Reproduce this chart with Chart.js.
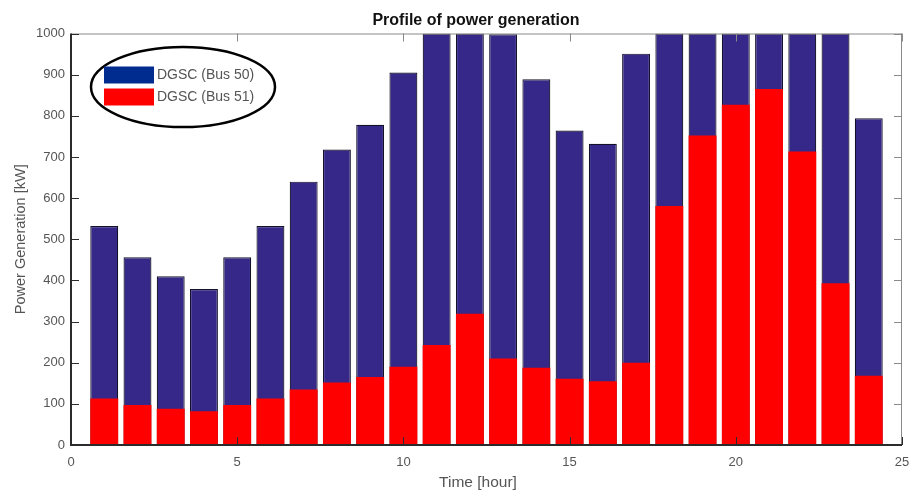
<!DOCTYPE html>
<html>
<head>
<meta charset="utf-8">
<script src="https://cdn.jsdelivr.net/npm/chart.js@4/dist/chart.umd.min.js"></script>
<style>
  html, body { margin: 0; padding: 0; background: #fff; }
  #wrap { width: 913px; height: 491px; }
</style>
</head>
<body>
<div id="wrap"><canvas id="c" width="913" height="491"></canvas></div>
<script>
// Hourly generation profile (kW)
const hours = [1,2,3,4,5,6,7,8,9,10,11,12,13,14,15,16,17,18,19,20,21,22,23,24];
// Bus 50 bar height (full bar)
const bus50 = [532,456,410,379,456,532,640,718,778,905,1000,1000,998,889,764,732,951,1000,1000,1000,1000,1000,1000,794];
// Bus 51 bar height (drawn over the lower part)
const bus51 = [113,97,88,82,97,113,135,152,165,190,243,319,210,188,161,155,200,581,752,827,865,713,393,168];
const yTicks = [0,100,200,300,400,500,600,700,800,900,1000];
const xTicks = [0,5,10,15,20,25];
const seriesLabels = ['DGSC (Bus 50)', 'DGSC (Bus 51)'];
const chartTitle = 'Profile of power generation';
const xTitle = 'Time [hour]';
const yTitle = 'Power Generation [kW]';

const FONT = 'Arial, "Liberation Sans", sans-serif';
const toPoints = (vals) => hours.map((h, i) => ({ x: h, y: vals[i] }));

// Box frame with inward tick marks on all four sides
const framePlugin = {
  id: 'frame',
  afterDatasetsDraw(chart) {
    const { ctx, chartArea: a, scales } = chart;
    const len = 8;
    ctx.save();
    ctx.lineWidth = 1;
    ctx.strokeStyle = '#8a8a8a';
    ctx.beginPath();
    ctx.moveTo(a.left, a.top + 0.5); ctx.lineTo(a.right, a.top + 0.5);
    ctx.moveTo(a.right - 0.5, a.top); ctx.lineTo(a.right - 0.5, a.bottom);
    xTicks.forEach(v => {
      const px = Math.round(scales.x.getPixelForValue(v)) + 0.5;
      ctx.moveTo(px, a.top); ctx.lineTo(px, a.top + len);
    });
    yTicks.forEach(v => {
      const py = Math.round(scales.y.getPixelForValue(v)) + 0.5;
      ctx.moveTo(a.right, py); ctx.lineTo(a.right - len, py);
    });
    ctx.stroke();
    ctx.strokeStyle = '#2b2b2b';
    ctx.beginPath();
    xTicks.forEach(v => {
      const px = Math.round(scales.x.getPixelForValue(v)) + 0.5;
      ctx.moveTo(px, a.bottom); ctx.lineTo(px, a.bottom - len);
    });
    yTicks.forEach(v => {
      const py = Math.round(scales.y.getPixelForValue(v)) + 0.5;
      ctx.moveTo(a.left, py); ctx.lineTo(a.left + len, py);
    });
    ctx.stroke();
    ctx.lineWidth = 2;
    ctx.beginPath();
    ctx.moveTo(a.left, a.top); ctx.lineTo(a.left, a.bottom);
    ctx.lineTo(a.right, a.bottom);
    ctx.stroke();
    ctx.restore();
  }
};

// Chart title and horizontal axis title
const titles = {
  id: 'titles',
  afterDraw(chart, args, opts) {
    const { ctx } = chart;
    ctx.save();
    ctx.textAlign = 'center';
    ctx.textBaseline = 'alphabetic';
    ctx.fillStyle = '#111';
    ctx.font = 'bold 16px ' + FONT;
    ctx.fillText(chartTitle, opts.titleX, opts.titleY);
    ctx.fillStyle = '#555';
    ctx.font = '15.5px ' + FONT;
    ctx.textBaseline = 'middle';
    ctx.fillText(xTitle, opts.xTitleX, opts.xTitleY);
    ctx.restore();
  }
};

// Legend inside an elliptical outline
const ovalLegend = {
  id: 'ovalLegend',
  afterDraw(chart, args, opts) {
    const { ctx } = chart;
    ctx.save();
    ctx.lineWidth = 2.5;
    ctx.strokeStyle = '#000';
    ctx.beginPath();
    ctx.ellipse(opts.cx, opts.cy, opts.rx, opts.ry, 0, 0, Math.PI * 2);
    ctx.stroke();
    ctx.font = '14px ' + FONT;
    ctx.textBaseline = 'middle';
    seriesLabels.forEach((lab, i) => {
      const y = opts.y0 + i * opts.step;
      ctx.fillStyle = opts.swatches[i];
      ctx.fillRect(opts.bx, y - 8.5, 50, 17);
      ctx.fillStyle = '#555';
      ctx.fillText(lab, opts.bx + 53, y + 0.5);
    });
    ctx.restore();
  }
};

new Chart(document.getElementById('c'), {
  type: 'bar',
  data: {
    datasets: [
      {
        label: seriesLabels[0],
        data: toPoints(bus50),
        backgroundColor: '#352888',
        borderColor: '#14122a',
        borderWidth: 1.2,
        borderSkipped: false,
        grouped: false,
        order: 1
      },
      {
        label: seriesLabels[1],
        data: toPoints(bus51),
        backgroundColor: '#ff0000',
        borderWidth: 0,
        grouped: false,
        order: 0
      }
    ]
  },
  options: {
    responsive: false,
    animation: false,
    devicePixelRatio: 1,
    layout: { padding: { left: 0, right: 11, top: 33.5, bottom: 0 } },
    barPercentage: 0.84,
    categoryPercentage: 1,
    plugins: {
      legend: { display: false },
      tooltip: { enabled: false },
      title: { display: false },
      titles: { titleX: 476, titleY: 25, xTitleX: 478, xTitleY: 483 },
      ovalLegend: {
        cx: 183, cy: 87, rx: 92, ry: 40,
        bx: 104, y0: 75, step: 22,
        swatches: ['#002c8f', '#ff0000']
      }
    },
    scales: {
      x: {
        type: 'linear',
        min: 0, max: 25,
        offset: false,
        afterBuildTicks: (s) => { s.ticks = xTicks.map(v => ({ value: v })); },
        afterFit: (s) => { s.height = 46; s.paddingLeft = 0; s.paddingRight = 0; },
        grid: { display: false, drawTicks: false },
        border: { display: false },
        ticks: {
          color: '#555',
          padding: 10,
          maxRotation: 0,
          font: { family: FONT, size: 13 }
        },
        title: { display: false }
      },
      y: {
        min: 0, max: 1000,
        afterBuildTicks: (s) => { s.ticks = yTicks.map(v => ({ value: v })); },
        afterFit: (s) => { s.width = 71; s.paddingTop = 0; s.paddingBottom = 0; },
        grid: { display: false, drawTicks: false },
        border: { display: false },
        ticks: {
          color: '#555',
          padding: 6,
          callback: (v) => String(v),
          font: { family: FONT, size: 13 }
        },
        title: {
          display: true,
          text: yTitle,
          color: '#555',
          padding: { top: 12, bottom: 4 },
          font: { family: FONT, size: 14.5 }
        }
      }
    }
  },
  plugins: [framePlugin, titles, ovalLegend]
});
</script>
</body>
</html>
